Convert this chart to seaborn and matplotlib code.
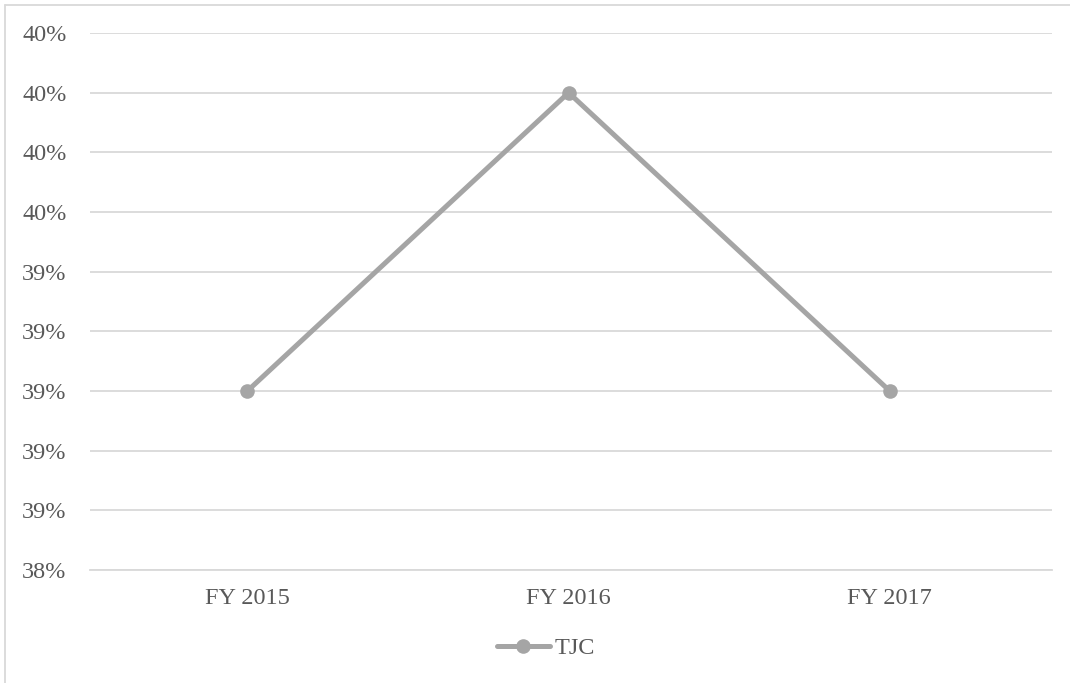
import matplotlib
matplotlib.use("Agg")
import matplotlib.pyplot as plt
import matplotlib.ticker as mticker
from matplotlib.lines import Line2D
import seaborn as sns
import pandas as pd

years = ["FY 2015", "FY 2016", "FY 2017"]
tjc = [0.390, 0.400, 0.390]
series_name = "TJC"

sns.set_theme(style="white")
plt.rcParams["font.family"] = ["Liberation Serif", "DejaVu Serif"]

df = pd.DataFrame({"year": years, "value": tjc, "series": series_name})

fig = plt.figure(figsize=(10.70, 6.83), dpi=100)
ax = fig.add_axes([90 / 1070, 1 - 570 / 683, (1052 - 90) / 1070, (570 - 33) / 683])

line_color = "#A5A5A5"
lw = 3.6
ms = 10.5
fs = 17.5
sns.lineplot(data=df, x="year", y="value", hue="series", palette=[line_color],
             marker="o", markersize=ms, markeredgewidth=0, linewidth=lw,
             ax=ax, legend=False)

ax.set_xlim(-0.49, 2.505)
ax.set_ylim(0.384, 0.402)
ax.yaxis.set_major_locator(mticker.MultipleLocator(0.002))
ax.yaxis.set_major_formatter(mticker.FuncFormatter(lambda v, p: f"{v * 100:.0f}%"))
ax.grid(axis="y", color="#D9D9D9", linewidth=1.3)
ax.grid(axis="x", visible=False)
for s in ax.spines.values():
    s.set_visible(False)
ax.spines["bottom"].set_visible(True)
ax.spines["bottom"].set_color("#D9D9D9")
ax.spines["bottom"].set_linewidth(1.3)
ax.tick_params(axis="y", length=0, pad=17, labelsize=fs, labelcolor="#595959")
ax.tick_params(axis="x", length=0, pad=13, labelsize=fs, labelcolor="#595959")
ax.set_xlabel("")
ax.set_ylabel("")

handle = Line2D([], [], color=line_color, linewidth=lw, marker="o",
                markersize=ms, markeredgewidth=0)
fig.legend([handle], [series_name], loc="center", bbox_to_anchor=(546 / 1070, 1 - 648 / 683),
           frameon=False, fontsize=fs, labelcolor="#595959",
           handlelength=2.2, handletextpad=0.2)

# chart frame (left and top edges)
fig.add_artist(Line2D([5 / 1070, 5 / 1070], [0, 1 - 5 / 683], color="#D9D9D9", linewidth=1.3))
fig.add_artist(Line2D([5 / 1070, 1], [1 - 5 / 683, 1 - 5 / 683], color="#D9D9D9", linewidth=1.3))

fig.savefig("out.png", dpi=100)
